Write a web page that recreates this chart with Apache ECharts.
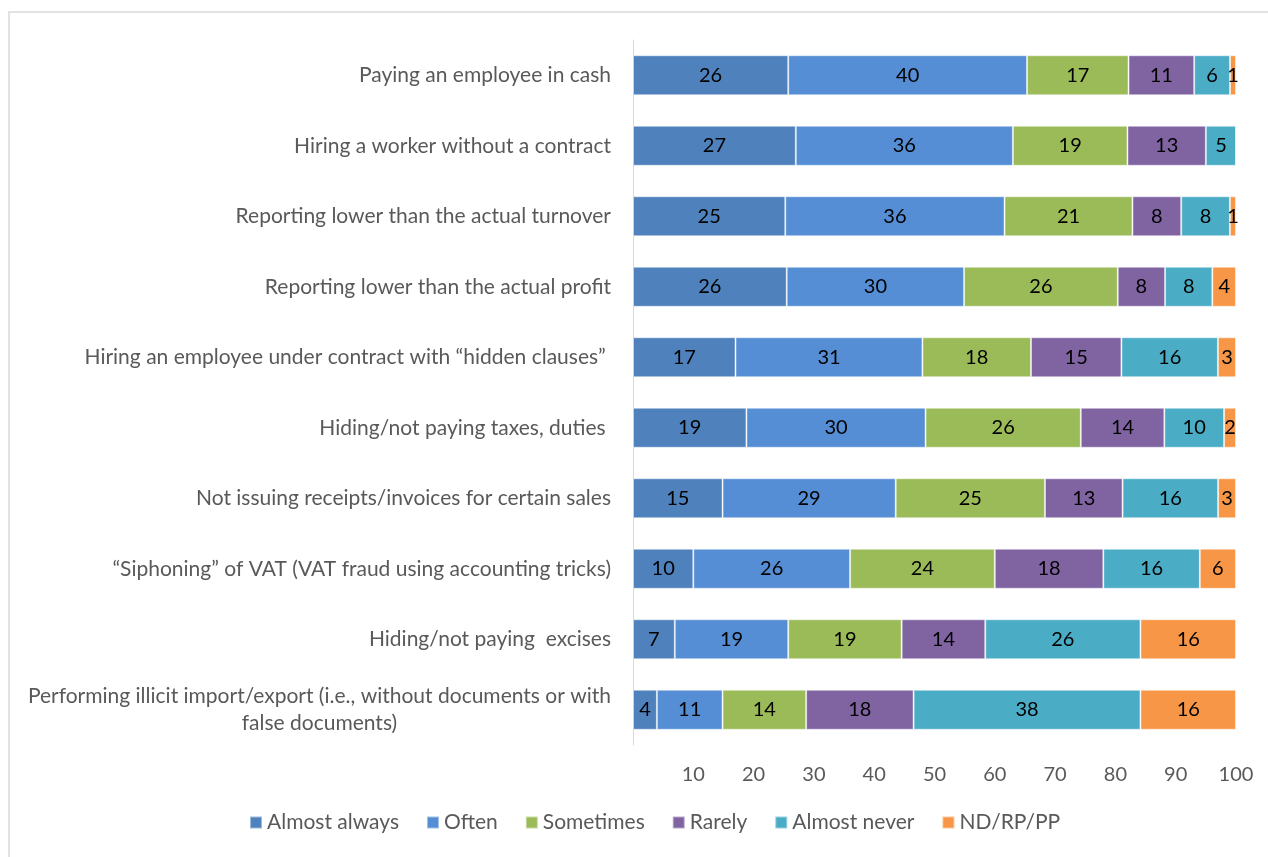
<!DOCTYPE html>
<html>
<head>
<meta charset="utf-8">
<script src="https://cdn.jsdelivr.net/npm/echarts@6/dist/echarts.min.js"></script>
<style>
  html, body { margin: 0; padding: 0; background: #fff; }
  #chart { width: 1268px; height: 857px; }
</style>
</head>
<body>
<div id="chart"></div>
<script>
// Practices, listed top to bottom
const categories = [
  'Paying an employee in cash',
  'Hiring a worker without a contract',
  'Reporting lower than the actual turnover',
  'Reporting lower than the actual profit',
  'Hiring an employee under contract with \u201chidden clauses\u201d ',
  'Hiding/not paying taxes, duties ',
  'Not issuing receipts/invoices for certain sales',
  '\u201cSiphoning\u201d of VAT (VAT fraud using accounting tricks)',
  'Hiding/not paying  excises',
  'Performing illicit import/export (i.e., without documents or with\nfalse documents)'
];

const seriesNames = ['Almost always', 'Often', 'Sometimes', 'Rarely', 'Almost never', 'ND/RP/PP'];

// Shares (%) per practice, in the same order as categories
const almostAlways = [26, 27, 25, 26, 17, 19, 15, 10, 7, 4];
const often        = [40, 36, 36, 30, 31, 30, 29, 26, 19, 11];
const sometimes    = [17, 19, 21, 26, 18, 26, 25, 24, 19, 14];
const rarely       = [11, 13, 8, 8, 15, 14, 13, 18, 14, 18];
const almostNever  = [6, 5, 8, 8, 16, 10, 16, 16, 26, 38];
const ndRpPp       = [1, 0, 1, 4, 3, 2, 3, 6, 16, 16];

const xTicks = [10, 20, 30, 40, 50, 60, 70, 80, 90, 100];

const colors = ['#4F81BD', '#558ED5', '#9BBB59', '#8064A2', '#4BACC6', '#F79646'];
const seriesData = [almostAlways, often, sometimes, rarely, almostNever, ndRpPp];

// 100% stacked: each bar is drawn as its share of the row total,
// while the label keeps the rounded percentage.
const rowTotals = categories.map((_, r) => seriesData.reduce((s, arr) => s + arr[r], 0));

const FONT = 'Lato, "Open Sans", sans-serif';
const GREY = '#595959';

const chart = echarts.init(document.getElementById('chart'));

chart.setOption({
  backgroundColor: '#fff',
  animation: false,
  color: colors,
  textStyle: { fontFamily: FONT },
  graphic: [{
    type: 'rect',
    shape: { x: 9, y: 12, width: 1280, height: 900 },
    style: { fill: 'none', stroke: '#d9d9d9', lineWidth: 1.5 },
    silent: true
  }],
  legend: {
    bottom: 19,
    left: 244,
    itemWidth: 12,
    itemHeight: 12,
    itemGap: 27,
    icon: 'rect',
    textStyle: { color: GREY, fontSize: 21, fontFamily: FONT },
    data: seriesNames
  },
  grid: {
    left: 633,
    right: 32,
    top: 40,
    bottom: 112,
    containLabel: false
  },
  xAxis: {
    type: 'value',
    min: 0,
    max: 100,
    interval: 10,
    axisLine: { show: false },
    axisTick: { show: false },
    splitLine: { show: false },
    axisLabel: {
      color: GREY,
      fontSize: 20,
      fontFamily: FONT,
      margin: 20,
      formatter: v => (xTicks.indexOf(v) >= 0 ? String(v) : '')
    }
  },
  yAxis: {
    type: 'category',
    inverse: true,
    data: categories,
    axisLine: { show: true, lineStyle: { color: '#d9d9d9', width: 1 } },
    axisTick: { show: false },
    axisLabel: {
      color: GREY,
      fontSize: 21,
      fontFamily: FONT,
      margin: 22,
      lineHeight: 27,
      formatter: v => '{c|' + v.split('\n').join('}\n{c|') + '}',
      rich: {
        c: { align: 'center', color: GREY, fontSize: 21, fontFamily: FONT, lineHeight: 27 }
      }
    }
  },
  series: seriesNames.map((name, i) => ({
    name: name,
    type: 'bar',
    stack: 'total',
    barWidth: 40,
    data: seriesData[i].map((v, r) => ({ value: v / rowTotals[r] * 100, raw: v })),
    itemStyle: { color: colors[i], borderColor: 'rgba(255,255,255,0.45)', borderWidth: 1 },
    label: {
      show: true,
      position: 'inside',
      color: '#000',
      fontSize: 20,
      fontFamily: FONT,
      formatter: p => (p.data.raw ? String(p.data.raw) : '')
    }
  }))
});
</script>
</body>
</html>
